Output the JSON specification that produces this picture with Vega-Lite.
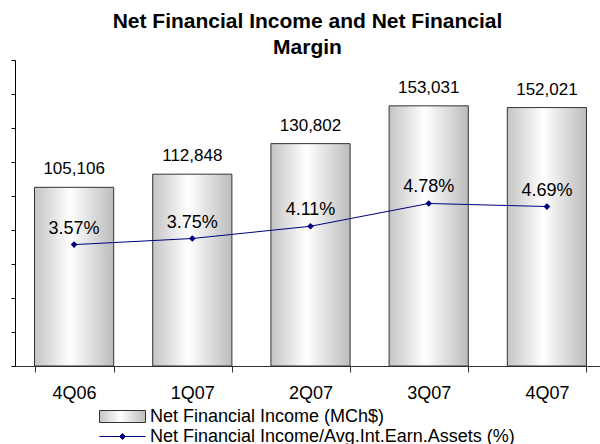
{
  "$schema": "https://vega.github.io/schema/vega-lite/v6.json",
  "width": 585,
  "height": 306,
  "autosize": {"type": "none"},
  "padding": {"left": 15, "top": 60, "right": 0, "bottom": 78},
  "background": "white",
  "config": {
    "view": {"stroke": null},
    "font": "Liberation Sans"
  },
  "title": {
    "text": ["Net Financial Income and Net Financial", "Margin"],
    "font": "Liberation Sans",
    "fontSize": 21,
    "fontWeight": "bold",
    "color": "black",
    "lineHeight": 26,
    "anchor": "middle",
    "frame": "group",
    "baseline": "bottom",
    "offset": -19
  },
  "data": {
    "values": [
      {"q": "4Q06", "nfi": 105106, "nfm": 3.57, "nfmLabel": "3.57%"},
      {"q": "1Q07", "nfi": 112848, "nfm": 3.75, "nfmLabel": "3.75%"},
      {"q": "2Q07", "nfi": 130802, "nfm": 4.11, "nfmLabel": "4.11%"},
      {"q": "3Q07", "nfi": 153031, "nfm": 4.78, "nfmLabel": "4.78%"},
      {"q": "4Q07", "nfi": 152021, "nfm": 4.69, "nfmLabel": "4.69%"}
    ]
  },
  "encoding": {
    "x": {
      "field": "q",
      "type": "nominal",
      "sort": null,
      "scale": {"range": [0, 591], "paddingInner": 0.33},
      "axis": {
        "title": null,
        "labelAngle": 0,
        "labelFont": "Liberation Sans",
        "labelFontSize": 18,
        "labelColor": "black",
        "labelPadding": 12,
        "tickBand": "extent",
        "tickSize": 6,
        "tickColor": "#333333",
        "domainColor": "#333333",
        "grid": false
      }
    }
  },
  "layer": [
    {
      "encoding": {
        "y": {
          "field": "nfi",
          "type": "quantitative",
          "scale": {"domain": [0, 180000], "nice": false},
          "axis": {
            "title": null,
            "labels": false,
            "grid": false,
            "values": [0, 20000, 40000, 60000, 80000, 100000, 120000, 140000, 160000, 180000],
            "tickSize": 4,
            "tickColor": "black",
            "domainColor": "black"
          }
        }
      },
      "layer": [
        {
          "mark": {
            "type": "bar",
            "strokeWidth": 1,
            "fill": {
              "gradient": "linear",
              "x1": 0, "y1": 0, "x2": 1, "y2": 0,
              "stops": [
                {"offset": 0, "color": "#c4c4c4"},
                {"offset": 0.45, "color": "#ffffff"},
                {"offset": 1, "color": "#bcbcbc"}
              ]
            }
          },
          "encoding": {
            "stroke": {
              "datum": "Net Financial Income (MCh$)",
              "type": "nominal",
              "scale": {"range": ["#333333"]},
              "legend": {
                "title": null,
                "orient": "none",
                "legendX": 84,
                "legendY": 346,
                "padding": 0,
                "symbolSize": 400,
                "symbolType": "M-1,-0.6H3.6V0.6H-1Z",
                "symbolStrokeColor": "#333333",
                "symbolStrokeWidth": 1,
                "symbolFillColor": "#dddddd",
                "symbolOpacity": 1,
                "labelOffset": 30,
                "labelFont": "Liberation Sans",
                "labelFontSize": 18,
                "labelColor": "black",
                "labelLimit": 500,
                "encode": {
                  "symbols": {
                    "update": {
                      "fill": {"value": {"gradient": "linear", "x1": 0, "y1": 0, "x2": 1, "y2": 0, "stops": [{"offset": 0, "color": "#bbbbbb"}, {"offset": 1, "color": "#ffffff"}]}},
                      "strokeWidth": {"value": 1},
                      "opacity": {"value": 1}
                    }
                  }
                }
              }
            }
          }
        },
        {
          "mark": {"type": "text", "font": "Liberation Sans", "fontSize": 17, "color": "black", "baseline": "alphabetic", "dy": -13},
          "encoding": {
            "text": {"field": "nfi", "type": "quantitative", "format": ",.0f"}
          }
        }
      ]
    },
    {
      "encoding": {
        "y": {"field": "nfm", "type": "quantitative", "scale": {"domain": [0, 9], "nice": false}, "axis": null}
      },
      "layer": [
        {
          "mark": {"type": "line", "strokeWidth": 1},
          "encoding": {
            "stroke": {
              "datum": "Net Financial Income/Avg.Int.Earn.Assets (%)",
              "type": "nominal",
              "scale": {"range": ["#000080"]},
              "legend": {
                "title": null,
                "orient": "none",
                "legendX": 84,
                "legendY": 366,
                "padding": 0,
                "symbolSize": 400,
                "symbolType": "M-1,0H3.6M1,0L1.3,-0.3L1.6,0L1.3,0.3Z",
                "symbolStrokeColor": "#000080",
                "symbolFillColor": "#000080",
                "symbolStrokeWidth": 1,
                "labelOffset": 30,
                "labelFont": "Liberation Sans",
                "labelFontSize": 18,
                "labelColor": "black",
                "labelLimit": 500,
                "encode": {
                  "symbols": {
                    "update": {
                      "fill": {"value": "#000080"},
                      "opacity": {"value": 1}
                    }
                  }
                }
              }
            }
          }
        },
        {
          "mark": {"type": "point", "shape": "diamond", "filled": true, "color": "#000080", "size": 45, "opacity": 1}
        },
        {
          "mark": {"type": "text", "font": "Liberation Sans", "fontSize": 18, "color": "black", "baseline": "alphabetic", "dy": -11},
          "encoding": {
            "text": {"field": "nfmLabel", "type": "nominal"}
          }
        }
      ]
    }
  ],
  "resolve": {"scale": {"y": "independent", "stroke": "independent"}}
}
